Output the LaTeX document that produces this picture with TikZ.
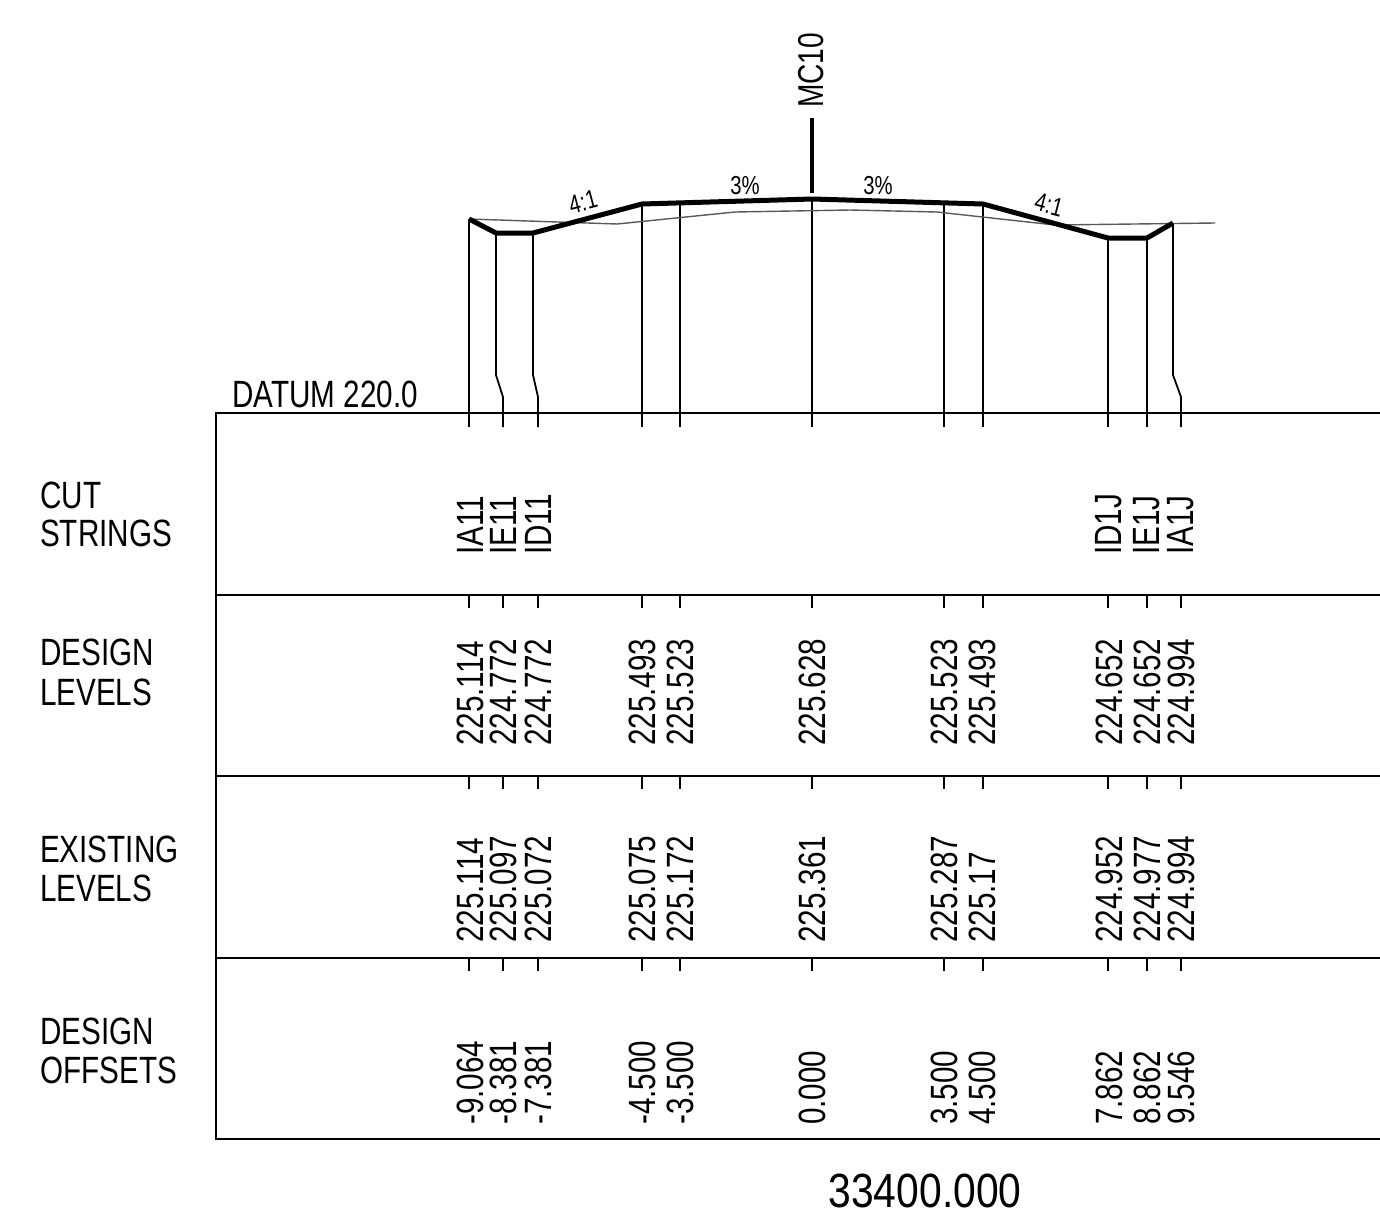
\documentclass[tikz,border=0pt]{standalone}
\usepackage{fontspec}
\setmainfont{Liberation Sans}[FakeStretch=0.78]
\newfontfamily\bignumfont{Liberation Sans}[FakeStretch=0.85]
\usetikzlibrary{positioning}

\begin{document}
\begin{tikzpicture}[
    x=1pt, y=-1pt,
    gridline/.style={line width=2pt},
    strline/.style={line width=1.8pt},
    designline/.style={line width=5pt, line join=round},
    groundline/.style={line width=1.4pt, black!65, line join=round},
    rowlabel/.style={font=\fontsize{38}{40}\selectfont, anchor=base west, inner sep=0},
    lvl/.style={font=\fontsize{38}{40}\selectfont, rotate=90, anchor=west, inner sep=0},
    slopelabel/.style={font=\fontsize{26}{28}\selectfont, inner sep=0}
]
\useasboundingbox (0,0) rectangle (1380,1223);

% Table
\draw[gridline] (1380,413) -- (216,413) -- (216,1139) -- (1380,1139);
\draw[gridline] (216,595) -- (1380,595);
\draw[gridline] (216,776) -- (1380,776);
\draw[gridline] (216,958) -- (1380,958);

% Row titles
\node[rowlabel] (datum) at (232,407) {DATUM 220.0};
\node[rowlabel] (cut1) at (40,508) {CUT};
\node[rowlabel] (cut2) at (40,546) {STRINGS};
\node[rowlabel] (dl1) at (40,665) {DESIGN};
\node[rowlabel] (dl2) at (40,705) {LEVELS};
\node[rowlabel] (el1) at (40,862) {EXISTING};
\node[rowlabel] (el2) at (40,901) {LEVELS};
\node[rowlabel] (do1) at (40,1044) {DESIGN};
\node[rowlabel] (do2) at (40,1083) {OFFSETS};

% Design points
\coordinate (ia11) at (469,219);
\coordinate (ie11) at (496,233);
\coordinate (id11) at (533,233);
\coordinate (cl1) at (642,204);
\coordinate (cl2) at (680,203);
\coordinate (mc) at (812,199);
\coordinate (cr2) at (944,203);
\coordinate (cr1) at (983,204);
\coordinate (id1j) at (1108,238);
\coordinate (ie1j) at (1147,238);
\coordinate (ia1j) at (1173,223);

% Offset lines
\draw[strline] (ia11) -- (469,427);
\draw[strline] (ie11) -- (496,375) -- (503,397) -- (503,427);
\draw[strline] (id11) -- (533,375) -- (538,397) -- (538,427);
\draw[strline] (cl1) -- (642,427);
\draw[strline] (cl2) -- (680,427);
\draw[strline] (mc) -- (812,427);
\draw[strline] (cr2) -- (944,427);
\draw[strline] (cr1) -- (983,427);
\draw[strline] (id1j) -- (1108,427);
\draw[strline] (ie1j) -- (1147,427);
\draw[strline] (ia1j) -- (1173,375) -- (1181,397) -- (1181,427);

% Ticks
\foreach \x in {469,503,538,642,680,812,944,983,1108,1147,1181}
  \foreach \y in {595,776,958}
    \draw[strline] (\x,\y) -- (\x,\y+13);

% Existing ground and design
\draw[groundline] (ia11) -- (617,224) -- (735,212) -- (850,210) -- (937,212) -- (1055,225) -- (1215,223);
\draw[designline] (ia11) -- (ie11) -- (id11) -- (cl1) -- (mc) -- (cr1) -- (id1j) -- (ie1j) -- (ia1j);

% Centre line
\draw[line width=4pt] (812,193) -- (812,118);
\node[lvl, font=\fontsize{36}{38}\selectfont] (mc10) at (811,108) {MC10};

% Slopes
\node[slopelabel, rotate=15] (s1) at (583,202) {4:1};
\node[slopelabel] (s2) at (745,186) {3\%};
\node[slopelabel] (s3) at (878,186) {3\%};
\node[slopelabel, rotate=-15] (s4) at (1049,205) {4:1};

% Cut strings
\node[lvl] (c1) at (470,555) {IA11};
\node[lvl] (c2) at (503,555) {IE11};
\node[lvl] (c3) at (538,555) {ID11};
\node[lvl] (c4) at (1109,555) {ID1J};
\node[lvl] (c5) at (1147,555) {IE1J};
\node[lvl] (c6) at (1181,555) {IA1J};

% Design levels
\node[lvl] (d1) at (470,746) {225.114};
\node[lvl] (d2) at (503,746) {224.772};
\node[lvl] (d3) at (538,746) {224.772};
\node[lvl] (d4) at (642,746) {225.493};
\node[lvl] (d5) at (680,746) {225.523};
\node[lvl] (d6) at (812,746) {225.628};
\node[lvl] (d7) at (944,746) {225.523};
\node[lvl] (d8) at (982,746) {225.493};
\node[lvl] (d9) at (1109,746) {224.652};
\node[lvl] (d10) at (1147,746) {224.652};
\node[lvl] (d11) at (1181,746) {224.994};

% Existing levels
\node[lvl] (e1) at (470,943) {225.114};
\node[lvl] (e2) at (503,943) {225.097};
\node[lvl] (e3) at (538,943) {225.072};
\node[lvl] (e4) at (642,943) {225.075};
\node[lvl] (e5) at (680,943) {225.172};
\node[lvl] (e6) at (812,943) {225.361};
\node[lvl] (e7) at (944,943) {225.287};
\node[lvl] (e8) at (982,943) {225.17};
\node[lvl] (e9) at (1109,943) {224.952};
\node[lvl] (e10) at (1147,943) {224.977};
\node[lvl] (e11) at (1181,943) {224.994};

% Design offsets
\node[lvl] (o1) at (470,1125) {-9.064};
\node[lvl] (o2) at (503,1125) {-8.381};
\node[lvl] (o3) at (538,1125) {-7.381};
\node[lvl] (o4) at (642,1125) {-4.500};
\node[lvl] (o5) at (680,1125) {-3.500};
\node[lvl] (o6) at (812,1125) {0.000};
\node[lvl] (o7) at (944,1125) {3.500};
\node[lvl] (o8) at (982,1125) {4.500};
\node[lvl] (o9) at (1109,1125) {7.862};
\node[lvl] (o10) at (1147,1125) {8.862};
\node[lvl] (o11) at (1181,1125) {9.546};

% Chainage
\node[font=\bignumfont\fontsize{48}{50}\selectfont, anchor=base, inner sep=0] (chain) at (925,1207) {33400.000};

\end{tikzpicture}
\end{document}
